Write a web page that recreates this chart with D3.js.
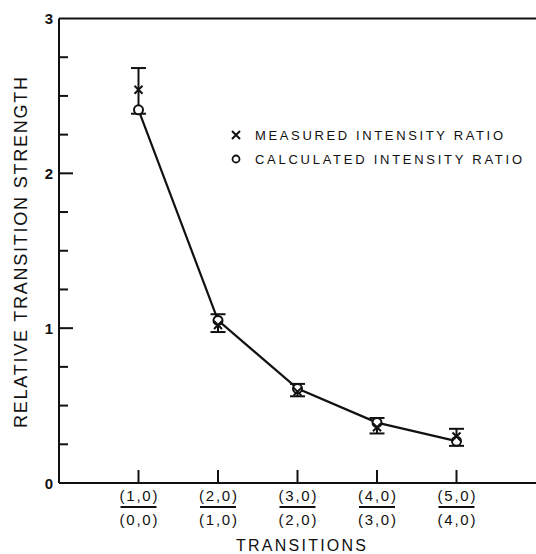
<!DOCTYPE html>
<html><head><meta charset="utf-8">
<script src="https://cdn.jsdelivr.net/npm/d3@7"></script>
<style>body{margin:0;background:#fff}svg{display:block}</style>
</head><body>
<script>
const xPositions = [1, 2, 3, 4, 5];
const numerators = ["(1,0)", "(2,0)", "(3,0)", "(4,0)", "(5,0)"];
const denominators = ["(0,0)", "(1,0)", "(2,0)", "(3,0)", "(4,0)"];
const measured = [2.54, 1.02, 0.59, 0.36, 0.30];
const calculated = [2.41, 1.05, 0.61, 0.39, 0.27];
const errLow = [2.385, 0.975, 0.56, 0.32, 0.24];
const errHigh = [2.68, 1.09, 0.64, 0.42, 0.35];
const yMajor = [0, 1, 2, 3];
const yMinor = d3.range(0.25, 3, 0.25).filter(v => v % 1 !== 0);
const legendLabels = ["MEASURED INTENSITY RATIO", "CALCULATED INTENSITY RATIO"];

const W = 536, H = 554;
const svg = d3.select("body").append("svg").attr("width", W).attr("height", H);
const x = d3.scaleLinear().domain([0, 6]).range([59, 536]);
const y = d3.scaleLinear().domain([0, 3]).range([483, 18.5]);
const font = "'Liberation Sans', Arial, sans-serif";

// frame lines
const g = svg.append("g").attr("stroke", "#111").attr("stroke-width", 2).attr("fill", "none");
g.append("line").attr("x1", x(0)).attr("x2", x(0)).attr("y1", y(3)).attr("y2", y(0));
g.append("line").attr("x1", x(0)).attr("x2", x(6)).attr("y1", y(0)).attr("y2", y(0));
g.append("line").attr("x1", x(0)).attr("x2", x(6)).attr("y1", y(3)).attr("y2", y(3));

// y ticks (inward)
g.selectAll(".ymaj").data(yMajor.filter(v => v > 0 && v < 3)).enter().append("line")
  .attr("x1", x(0)).attr("x2", x(0) + 14).attr("y1", d => y(d)).attr("y2", d => y(d));
g.selectAll(".ymin").data(yMinor).enter().append("line")
  .attr("x1", x(0)).attr("x2", x(0) + 9).attr("y1", d => y(d)).attr("y2", d => y(d));
// x ticks
g.selectAll(".xt").data(xPositions).enter().append("line")
  .attr("x1", d => x(d)).attr("x2", d => x(d)).attr("y1", y(0)).attr("y2", y(0) - 13);

// y tick labels
svg.selectAll(".yl").data(yMajor).enter().append("text")
  .attr("x", 53).attr("y", d => y(d) + 5.5).attr("text-anchor", "end")
  .attr("font-family", font).attr("font-size", 15).attr("font-weight", "bold").attr("fill", "#111")
  .text(d => d);

// x tick labels (fractions)
const xl = svg.selectAll(".xl").data(xPositions).enter().append("g");
xl.append("text").attr("x", d => x(d)).attr("y", 501).attr("text-anchor", "middle")
  .attr("font-family", font).attr("font-size", 15).attr("fill", "#111")
  .attr("textLength", 38).attr("lengthAdjust", "spacing")
  .text((d, i) => numerators[i]);
xl.append("line").attr("x1", d => x(d) - 18).attr("x2", d => x(d) + 18)
  .attr("y1", 507).attr("y2", 507).attr("stroke", "#111").attr("stroke-width", 2);
xl.append("text").attr("x", d => x(d)).attr("y", 525).attr("text-anchor", "middle")
  .attr("font-family", font).attr("font-size", 15).attr("fill", "#111")
  .attr("textLength", 38).attr("lengthAdjust", "spacing")
  .text((d, i) => denominators[i]);

// axis titles
svg.append("text").attr("x", 236).attr("y", 551)
  .attr("font-family", font).attr("font-size", 16).attr("fill", "#111")
  .attr("textLength", 130).attr("lengthAdjust", "spacing").text("TRANSITIONS");
svg.append("text").attr("transform", "translate(27,428) rotate(-90)")
  .attr("font-family", font).attr("font-size", 18).attr("fill", "#111")
  .attr("textLength", 351).attr("lengthAdjust", "spacing").text("RELATIVE TRANSITION STRENGTH");

// connecting line through calculated values
const line = d3.line().x((d, i) => x(xPositions[i])).y(d => y(d));
svg.append("path").datum(calculated).attr("d", line)
  .attr("fill", "none").attr("stroke", "#111").attr("stroke-width", 2.2);

// error bars
const eb = svg.append("g").attr("stroke", "#111").attr("stroke-width", 2);
xPositions.forEach((p, i) => {
  const cx = x(p);
  eb.append("line").attr("x1", cx).attr("x2", cx).attr("y1", y(errLow[i])).attr("y2", y(errHigh[i]));
  eb.append("line").attr("x1", cx - 7.5).attr("x2", cx + 7.5).attr("y1", y(errLow[i])).attr("y2", y(errLow[i]));
  eb.append("line").attr("x1", cx - 7.5).attr("x2", cx + 7.5).attr("y1", y(errHigh[i])).attr("y2", y(errHigh[i]));
});

// markers
function drawX(sel, cx, cy, s) {
  sel.append("path").attr("d", `M${cx - s},${cy - s}L${cx + s},${cy + s}M${cx - s},${cy + s}L${cx + s},${cy - s}`)
    .attr("stroke", "#111").attr("stroke-width", 2).attr("fill", "none");
}
svg.selectAll(".calc").data(calculated).enter().append("circle")
  .attr("cx", (d, i) => x(xPositions[i])).attr("cy", d => y(d)).attr("r", 4.5)
  .attr("fill", "#fff").attr("stroke", "#111").attr("stroke-width", 2);
measured.forEach((v, i) => drawX(svg, x(xPositions[i]), y(v), 4));

// legend
drawX(svg, 236, 135, 4);
svg.append("circle").attr("cx", 236).attr("cy", 159).attr("r", 3.5)
  .attr("fill", "#fff").attr("stroke", "#111").attr("stroke-width", 1.8);
svg.selectAll(".lg").data(legendLabels).enter().append("text")
  .attr("x", 255).attr("y", (d, i) => 140 + i * 24)
  .attr("font-family", font).attr("font-size", 13).attr("fill", "#111")
  .attr("textLength", (d, i) => i === 0 ? 248 : 267).attr("lengthAdjust", "spacing")
  .text(d => d);
</script>
</body></html>
